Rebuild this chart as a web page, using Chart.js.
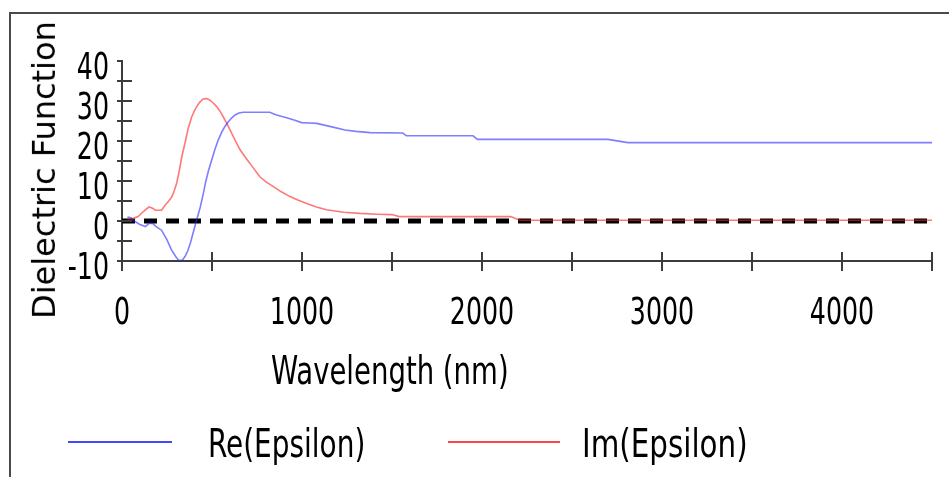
<!DOCTYPE html>
<html>
<head>
<meta charset="utf-8">
<script src="https://cdn.jsdelivr.net/npm/chart.js@4.4.1/dist/chart.umd.min.js"></script>
<style>
  html, body { margin: 0; padding: 0; background: #fff; }
  #wrap { position: relative; width: 949px; height: 477px; overflow: hidden; background: #fff; }
  #frame { position: absolute; left: 9px; top: 12px; width: 1000px; height: 600px;
           border-left: 2px solid #4a4a4a; border-top: 2px solid #4a4a4a; box-sizing: border-box; }
  #chart { position: absolute; left: 0; top: 0; }
  .txt { position: absolute; white-space: nowrap; color: #000; line-height: 1; margin: 0; }
  .hz { font-family: "DejaVu Sans Condensed", "DejaVu Sans", sans-serif; font-size: 36px; }
  #ytitle { font-family: "DejaVu Sans", sans-serif; font-size: 32px; }
  .legline { position: absolute; height: 2px; }
</style>
</head>
<body>
<div id="wrap">
  <div id="frame"></div>
  <canvas id="chart" width="949" height="477"></canvas>
  <div id="ytitle" class="txt">Dielectric Function</div>
  <div id="xtitle" class="txt hz">Wavelength (nm)</div>
  <div id="legRe" class="legline"></div>
  <div id="legReTxt" class="txt hz">Re(Epsilon)</div>
  <div id="legIm" class="legline"></div>
  <div id="legImTxt" class="txt hz">Im(Epsilon)</div>
</div>
<script>
// ---- data ----
const seriesNames = ["Re(Epsilon)", "Im(Epsilon)"];
const reWl  = [30,50,75,100,130,150,170,190,220,250,275,300,315,335,350,365,380,395,415,435,452,465,480,500,517,535,554,570,591,610,628,650,674,750,822,840,859,890,924,960,998,1040,1082,1160,1239,1300,1378,1560,1580,1950,1975,2700,2810,4500];
const reVal = [1.0,0.8,-0.2,-0.9,-1.4,-0.6,-0.6,-1.4,-2.3,-4.7,-7.2,-9.0,-9.8,-9.8,-8.9,-7.5,-5.5,-3.0,0.3,3.5,6.9,9.8,12.5,15.5,18.0,20.3,22.2,23.5,24.8,25.8,26.5,27.0,27.2,27.2,27.2,26.8,26.5,26.1,25.7,25.2,24.6,24.5,24.4,23.6,22.75,22.4,22.1,22.0,21.3,21.3,20.4,20.4,19.6,19.6];
const imWl  = [30,60,90,110,130,150,170,185,220,240,260,276,290,304,318,332,350,368,387,406,430,450,470,489,507,526,545,563,582,600,628,656,684,711,740,767,800,841,885,933,980,1026,1080,1137,1230,1322,1420,1500,1540,2160,2210,4500];
const imVal = [0.5,0.6,1.1,2.0,2.8,3.5,3.2,2.7,2.7,4.0,5.0,6.0,7.5,9.5,12.5,16.0,19.5,23.2,26.0,27.9,29.6,30.5,30.6,30.2,29.5,28.6,27.4,26.0,24.4,22.8,20.2,17.8,16.0,14.4,12.6,11.0,9.8,8.6,7.3,6.1,5.2,4.4,3.5,2.8,2.2,1.9,1.7,1.6,1.1,1.1,0.2,0.2];
const zeroWl  = [0, 4500];
const zeroVal = [0, 0];
const xTickLabels = [0, 1000, 2000, 3000, 4000];
const yTickLabels = [-10, 0, 10, 20, 30, 40];

const toPts = (xs, ys) => xs.map((x, i) => ({ x: x, y: ys[i] }));

const axisColor = '#3c3c3c';
const LABEL_FONT = '36px "DejaVu Sans Condensed", "DejaVu Sans", sans-serif';
const LABEL_SX = 0.78, LABEL_CAP = 27, FONT_PX = 36;
const LABEL_SY = LABEL_CAP / (0.729 * FONT_PX);

// tick marks crossing the axes, and condensed tick labels from the scales' own ticks
const axisDecor = {
  id: 'axisDecor',
  afterDraw(chart) {
    const { ctx, chartArea, scales: { x, y } } = chart;
    ctx.save();
    ctx.strokeStyle = axisColor;
    ctx.lineWidth = 2;
    y.ticks.forEach(t => {
      const py = Math.round(y.getPixelForValue(t.value));
      ctx.beginPath();
      ctx.moveTo(chartArea.left - 5, py);
      ctx.lineTo(t.value === y.max ? chartArea.left : chartArea.left + 10, py);
      ctx.stroke();
    });
    x.ticks.forEach(t => {
      const px = Math.round(x.getPixelForValue(t.value));
      ctx.beginPath();
      ctx.moveTo(px, chartArea.bottom - 9);
      ctx.lineTo(px, chartArea.bottom + 10);
      ctx.stroke();
    });
    ctx.fillStyle = '#000';
    ctx.font = LABEL_FONT;
    ctx.textAlign = 'left';
    ctx.textBaseline = 'alphabetic';
    const draw = (txt, left, base) => {
      ctx.save();
      ctx.translate(left, base);
      ctx.scale(LABEL_SX, LABEL_SY);
      ctx.fillText(txt, 0, 0);
      ctx.restore();
    };
    y.ticks.forEach(t => {
      if (!t.label) return;
      const w = ctx.measureText(t.label).width * LABEL_SX;
      const py = y.getPixelForValue(t.value);
      draw(t.label, chartArea.left - 13 - w, py + 4 + LABEL_CAP / 2);
    });
    x.ticks.forEach(t => {
      if (!t.label) return;
      const w = ctx.measureText(t.label).width * LABEL_SX;
      const px = x.getPixelForValue(t.value);
      draw(t.label, px - w / 2, chartArea.bottom + 36 + LABEL_CAP);
    });
    ctx.restore();
  }
};

new Chart(document.getElementById('chart'), {
  type: 'line',
  data: {
    datasets: [
      { label: seriesNames[0], data: toPts(reWl, reVal), borderColor: 'rgba(40,40,255,0.6)', borderWidth: 1.6, pointRadius: 0, tension: 0 },
      { label: seriesNames[1], data: toPts(imWl, imVal), borderColor: 'rgba(255,30,30,0.6)', borderWidth: 1.6, pointRadius: 0, tension: 0 },
      { label: 'zero', data: toPts(zeroWl, zeroVal), borderColor: '#000', borderWidth: 5, borderDash: [13, 9], borderCapStyle: 'butt', pointRadius: 0 }
    ]
  },
  options: {
    responsive: false,
    devicePixelRatio: 1,
    animation: false,
    events: [],
    layout: { padding: { left: 0, top: 61, right: 17, bottom: 0 } },
    plugins: { legend: { display: false }, tooltip: { enabled: false } },
    scales: {
      x: {
        type: 'linear', min: 0, max: 4500,
        afterFit(s) { s.height = 216; },
        grid: { display: false, drawTicks: false },
        border: { display: true, color: axisColor, width: 2 },
        ticks: {
          display: false, stepSize: 500, autoSkip: false, maxRotation: 0, minRotation: 0,
          callback: v => xTickLabels.includes(v) ? String(v) : ''
        }
      },
      y: {
        type: 'linear', min: -10, max: 40,
        afterFit(s) { s.width = 122; },
        grid: { display: false, drawTicks: false },
        border: { display: true, color: axisColor, width: 2 },
        ticks: {
          display: false, stepSize: 5, autoSkip: false,
          callback: v => yTickLabels.includes(v) ? String(v) : ''
        }
      }
    }
  },
  plugins: [axisDecor]
});

// ---- place the HTML titles / legend ----
const CAP = 0.729, CAPTOP = 0.117; // DejaVu metrics with line-height 1
function placeText(id, left, capTop, width, capH) {
  const el = document.getElementById(id);
  const F = parseFloat(getComputedStyle(el).fontSize);
  const sy = capH / (CAP * F);
  const sx = width / el.offsetWidth;
  el.style.transformOrigin = '0 0';
  el.style.transform = `scale(${sx}, ${sy})`;
  el.style.left = left + 'px';
  el.style.top = (capTop - CAPTOP * F * sy) + 'px';
}
placeText('xtitle', 271, 356, 238, 29);
placeText('legReTxt', 208, 429, 157, 29);
placeText('legImTxt', 582, 429, 166, 29);

(function () {
  const yt = document.getElementById('ytitle');
  const w = yt.offsetWidth, h = yt.offsetHeight;
  yt.style.left = (44 - w / 2) + 'px';
  yt.style.top = (170 - h / 2) + 'px';
  yt.style.transform = 'rotate(-90deg)';
  yt.style.transformOrigin = '50% 50%';
})();

function legLine(id, x1, x2, y, color) {
  const el = document.getElementById(id);
  el.style.left = x1 + 'px';
  el.style.width = (x2 - x1) + 'px';
  el.style.top = (y - 1) + 'px';
  el.style.background = color;
}
legLine('legRe', 68, 172, 442, 'rgb(70,70,255)');
legLine('legIm', 448, 560, 442, 'rgb(255,70,70)');
</script>
</body>
</html>
